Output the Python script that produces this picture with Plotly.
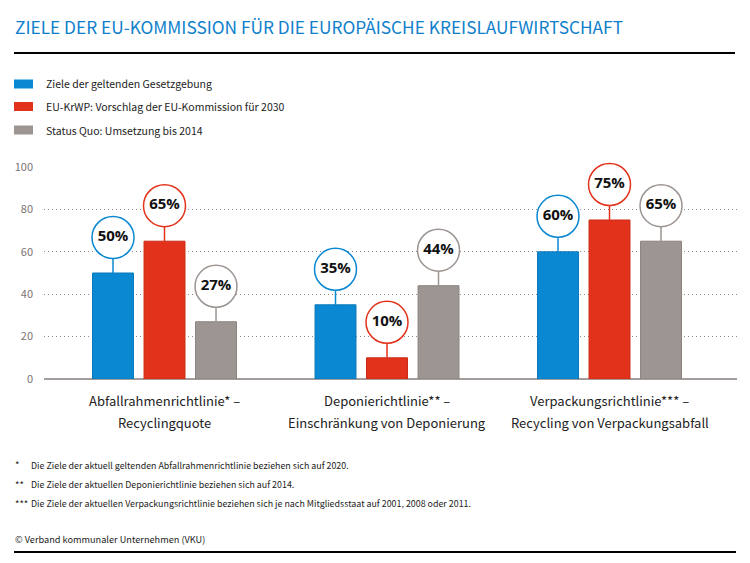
import plotly.graph_objects as go

# Daten
title = "ZIELE DER EU-KOMMISSION FÜR DIE EUROPÄISCHE KREISLAUFWIRTSCHAFT"
category_titles = ["Abfallrahmenrichtlinie* –", "Deponierichtlinie** –", "Verpackungsrichtlinie*** –"]
category_subtitles = ["Recyclingquote", "Einschränkung von Deponierung", "Recycling von Verpackungsabfall"]
series_names = [
    "Ziele der geltenden Gesetzgebung",
    "EU-KrWP: Vorschlag der EU-Kommission für 2030",
    "Status Quo: Umsetzung bis 2014",
]
ziele_geltend = [50, 35, 60]
vorschlag_2030 = [65, 10, 75]
status_quo = [27, 44, 65]
y_ticks = [0, 20, 40, 60, 80, 100]
footnote_marks = ["*", "**", "***"]
footnote_texts = [
    "Die Ziele der aktuell geltenden Abfallrahmenrichtlinie beziehen sich auf 2020.",
    "Die Ziele der aktuellen Deponierichtlinie beziehen sich auf 2014.",
    "Die Ziele der aktuellen Verpackungsrichtlinie beziehen sich je nach Mitgliedsstaat auf 2001, 2008 oder 2011.",
]
source = "© Verband kommunaler Unternehmen (VKU)"

colors = ["#0a88d2", "#e3321b", "#9c9591"]
edge_colors = ["#0a78bb", "#c92a15", "#8a8380"]
values = [ziele_geltend, vorschlag_2030, status_quo]

# Layout (Pixel)
W, H = 750, 563
L, R, T, B = 44, 13, 167, 184
plot_w = W - L - R
plot_h = H - T - B
x_min, x_max = -0.5416, 2.573
slot = 0.2315
bar_w = 0.184
px_per_unit = plot_h / 100
circle_d = 42
circle_off = 35.5 / px_per_unit
stick = (35.5 - circle_d / 2) / px_per_unit

FONT = "Noto Sans CJK SC, Roboto, sans-serif"
TXT = "#222222"


def px_x(px):
    return (px - L) / plot_w


def px_y(py):
    return (H - B - py) / plot_h


def note(text, x, y, size, xref='paper', xanchor='left', color=TXT):
    return dict(text=text, xref=xref, yref='paper', x=x, y=y, xanchor=xanchor,
                yanchor='middle', showarrow=False,
                font=dict(family=FONT, size=size, color=color))


fig = go.Figure()

for j, (name, vals) in enumerate(zip(series_names, values)):
    xs = [i + (j - 1) * slot for i in range(len(category_titles))]
    fig.add_trace(go.Bar(
        x=xs, y=vals, width=bar_w, name=name,
        marker=dict(color=colors[j], line=dict(color=edge_colors[j], width=1)),
        error_y=dict(type='data', symmetric=False, array=[stick] * len(vals),
                     arrayminus=[0] * len(vals), color=colors[j], thickness=1.5, width=0),
        showlegend=False, hoverinfo='skip',
    ))
    fig.add_trace(go.Scatter(
        x=xs, y=[v + circle_off for v in vals],
        mode='markers+text', text=[f"{v}%" for v in vals],
        textposition='middle center',
        textfont=dict(family="Open Sans", size=15, color="#111111", weight='bold'),
        marker=dict(size=circle_d, color='white', line=dict(color=colors[j], width=1.5)),
        cliponaxis=False, showlegend=False, hoverinfo='skip',
    ))

shapes = [
    dict(type='line', xref='paper', yref='paper', x0=px_x(14), x1=px_x(735),
         y0=px_y(53), y1=px_y(53), line=dict(color='black', width=2)),
    dict(type='line', xref='paper', yref='paper', x0=px_x(14), x1=px_x(736),
         y0=px_y(552), y1=px_y(552), line=dict(color='black', width=2)),
]
annotations = [note(title, px_x(13), px_y(26), 17.3, color="#0f7fcc")]

legend_y = [84, 106.5, 130]
for j, name in enumerate(series_names):
    shapes.append(dict(type='rect', xref='paper', yref='paper',
                       x0=px_x(14), x1=px_x(33), y0=px_y(legend_y[j] - 4.5), y1=px_y(legend_y[j] + 4.5),
                       fillcolor=colors[j], line=dict(width=0)))
    annotations.append(note(name, px_x(44), px_y(legend_y[j]), 10.5))

# Kategorienbeschriftung (zwei Zeilen)
for i, (t1, t2) in enumerate(zip(category_titles, category_subtitles)):
    annotations.append(note(t1, i, px_y(400), 13, xref='x', xanchor='center'))
    annotations.append(note(t2, i, px_y(422), 13, xref='x', xanchor='center'))

foot_y = [465, 484.5, 503.5]
for k, (mark, txt) in enumerate(zip(footnote_marks, footnote_texts)):
    annotations.append(note(mark, px_x(13), px_y(foot_y[k]), 9.5))
    annotations.append(note(txt, px_x(29), px_y(foot_y[k]), 8.9))

annotations.append(note(source, px_x(13), px_y(539), 9.2))

fig.update_layout(
    width=W, height=H,
    margin=dict(l=L, r=R, t=T, b=B),
    paper_bgcolor='white', plot_bgcolor='white',
    font=dict(family=FONT),
    xaxis=dict(range=[x_min, x_max], showticklabels=False, showgrid=False,
               zeroline=False, ticks='', showline=False, automargin=False),
    yaxis=dict(range=[0, 100], tickmode='array', tickvals=y_ticks, showgrid=True,
               gridcolor='#8a8a8a', griddash='1px,3px', gridwidth=1,
               zeroline=True, zerolinecolor='#a39d9b', zerolinewidth=2,
               ticks='', automargin=False,
               tickfont=dict(family=FONT, size=11, color="#7d7372"),
               ticklabelstandoff=10),
    shapes=shapes,
    annotations=annotations,
)

fig.write_html("out.html", config={'displayModeBar': False},
               post_script="document.body.style.margin='0';")
